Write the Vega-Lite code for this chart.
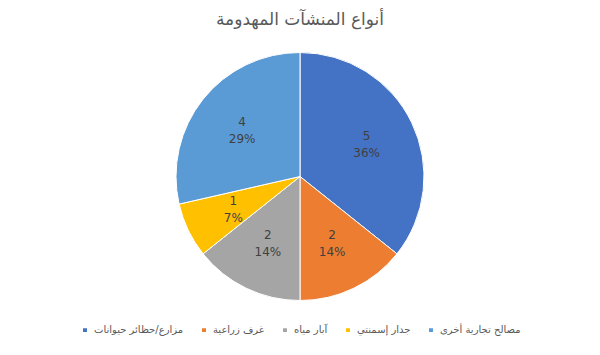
{
  "$schema": "https://vega.github.io/schema/vega-lite/v6.json",
  "width": 600,
  "height": 355,
  "autosize": {"type": "fit", "contains": "padding"},
  "padding": {"top": 11, "bottom": 19, "left": 5, "right": 5},
  "background": "white",
  "title": {
    "text": "أنواع المنشآت المهدومة",
    "font": "DejaVu Sans",
    "fontSize": 17,
    "fontWeight": "normal",
    "color": "#595959",
    "anchor": "middle",
    "offset": 8
  },
  "data": {
    "values": [
      {"category": "مزارع/حظائر حيوانات", "count": 5, "pct": "36%", "rank": 1},
      {"category": "غرف زراعية", "count": 2, "pct": "14%", "rank": 2},
      {"category": "آبار مياه", "count": 2, "pct": "14%", "rank": 3},
      {"category": "جدار إسمنتي", "count": 1, "pct": "7%", "rank": 4},
      {"category": "مصالح تجارية أخرى", "count": 4, "pct": "29%", "rank": 5}
    ]
  },
  "encoding": {
    "theta": {"field": "count", "type": "quantitative", "stack": true},
    "order": {"field": "rank", "type": "quantitative", "sort": "ascending"}
  },
  "layer": [
    {
      "mark": {"type": "arc", "outerRadius": 124, "stroke": "white", "strokeWidth": 1},
      "encoding": {
        "color": {
          "field": "category",
          "type": "nominal",
          "scale": {
            "domain": ["مزارع/حظائر حيوانات", "غرف زراعية", "آبار مياه", "جدار إسمنتي", "مصالح تجارية أخرى"],
            "range": ["#4472C4", "#ED7D31", "#A5A5A5", "#FFC000", "#5B9BD5"]
          },
          "legend": {
            "orient": "bottom",
            "direction": "horizontal",
            "title": null,
            "offset": 9,
            "symbolType": "square",
            "symbolSize": 30,
            "labelFont": "DejaVu Sans",
            "labelFontSize": 10,
            "labelColor": "#595959",
            "columnPadding": 14
          }
        }
      }
    },
    {
      "mark": {"type": "text", "radius": 74, "dy": -8, "font": "DejaVu Sans", "fontSize": 12},
      "encoding": {
        "text": {"field": "count", "type": "quantitative"},
        "color": {"value": "#404040"}
      }
    },
    {
      "mark": {"type": "text", "radius": 74, "dy": 9, "font": "DejaVu Sans", "fontSize": 12},
      "encoding": {
        "text": {"field": "pct", "type": "nominal"},
        "color": {"value": "#404040"}
      }
    }
  ],
  "config": {
    "view": {"stroke": null},
    "legend": {"layout": {"bottom": {"anchor": "middle"}}}
  }
}
